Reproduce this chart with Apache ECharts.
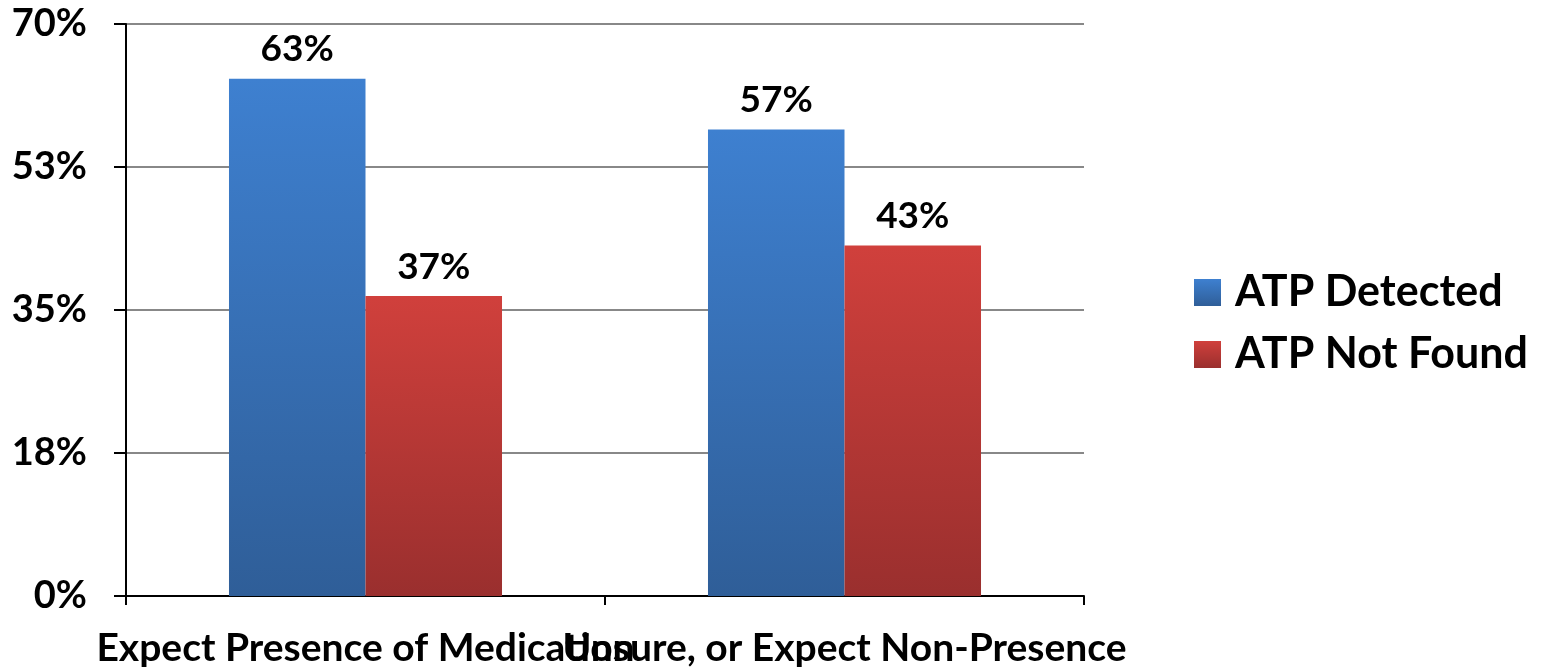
<!DOCTYPE html>
<html><head><meta charset="utf-8">
<script src="https://cdn.jsdelivr.net/npm/echarts@6/dist/echarts.min.js"></script>
<style>html,body{margin:0;padding:0;background:#fff}#c{width:1546px;height:668px}</style>
</head><body><div id="c"></div>
<script>
const categories = ['Expect Presence of Medication', 'Unsure, or Expect Non-Presence'];
const atpDetected = [63.3, 57.1];
const atpNotFound = [36.7, 42.9];
const seriesNames = ['ATP Detected', 'ATP Not Found'];

const FONT = 'Lato';
function grad(top, bottom) {
  return new echarts.graphic.LinearGradient(0, 0, 0, 1, [
    { offset: 0, color: top }, { offset: 1, color: bottom }
  ]);
}
const chart = echarts.init(document.getElementById('c'), null, { renderer: 'canvas' });
const labelStyle = {
  show: true, position: 'top', distance: 11,
  formatter: p => Math.round(p.value) + '%',
  fontFamily: FONT, fontWeight: 'bold', fontSize: 37, color: '#000'
};
chart.setOption({
  animation: false,
  backgroundColor: '#fff',
  grid: { left: 126, right: 462, top: 24, bottom: 72, containLabel: false, outerBoundsMode: 'none' },
  legend: {
    orient: 'vertical', left: 1189, top: 266,
    itemWidth: 27, itemHeight: 27, itemGap: 19,
    icon: 'rect',
    textStyle: { fontFamily: FONT, fontWeight: 'bold', fontSize: 43, color: '#000', padding: [0, 0, 0, 9] },
    data: seriesNames
  },
  xAxis: {
    type: 'category', data: categories,
    axisLine: { lineStyle: { color: '#000', width: 2 } },
    axisTick: { show: true, length: 9, alignWithLabel: false, lineStyle: { color: '#000', width: 2 } },
    axisLabel: { interval: 0, margin: 33, fontFamily: FONT, fontWeight: 'bold', fontSize: 39, color: '#000' }
  },
  yAxis: {
    type: 'value', min: 0, max: 70, interval: 17.5,
    axisLine: { show: true, lineStyle: { color: '#000', width: 2 } },
    axisTick: { show: true, length: 12, lineStyle: { color: '#000', width: 2 } },
    splitLine: { show: true, lineStyle: { color: '#888', width: 2 } },
    axisLabel: { margin: 39, formatter: v => Math.round(v) + '%', fontFamily: FONT, fontWeight: 'bold', fontSize: 38, color: '#000' }
  },
  series: [
    {
      name: seriesNames[0], type: 'bar', data: atpDetected,
      barGap: '0%', barCategoryGap: '43%',
      itemStyle: { color: grad('#3e80d0', '#2f5e98') },
      label: labelStyle
    },
    {
      name: seriesNames[1], type: 'bar', data: atpNotFound,
      itemStyle: { color: grad('#d0403c', '#9a2f2e') },
      label: labelStyle
    }
  ]
});
</script></body></html>
